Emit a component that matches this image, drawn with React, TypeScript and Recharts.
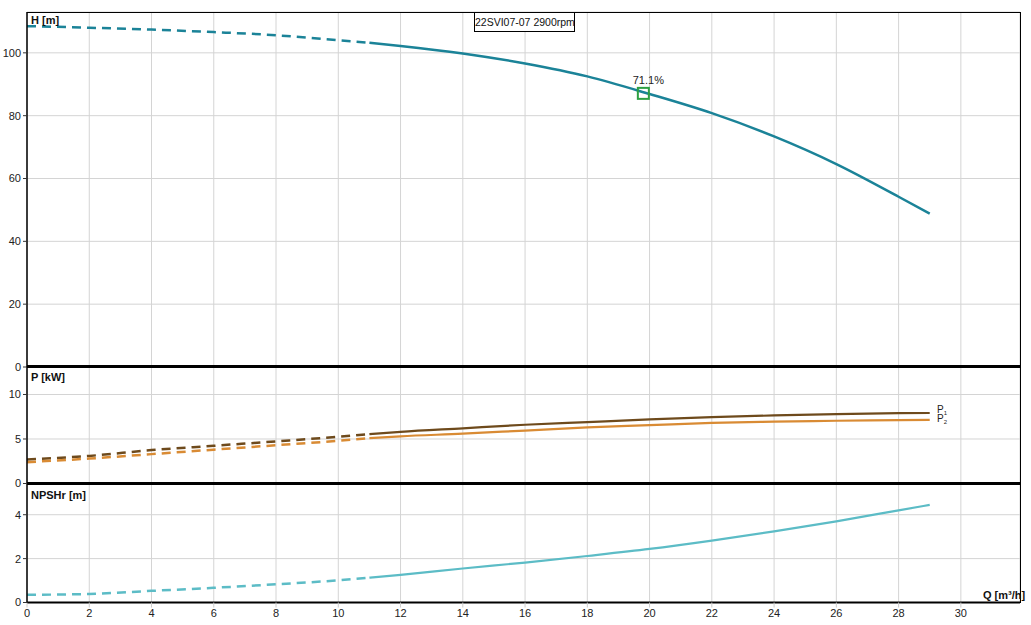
import React from "react";
import {
  LineChart,
  Line,
  XAxis,
  YAxis,
  CartesianGrid,
  ReferenceDot,
} from "recharts";

// ---- data ----
const flow = [0, 2, 4, 6, 8, 10, 11, 12, 14, 16, 18, 20, 22, 24, 26, 28, 29];
const head = [108.5, 108.0, 107.4, 106.6, 105.6, 104.0, 103.2, 102.2, 99.8, 96.6, 92.5, 86.9, 80.8, 73.4, 64.6, 54.2, 48.8];
const powerP1 = [2.7, 3.1, 3.75, 4.24, 4.73, 5.25, 5.55, 5.8, 6.2, 6.6, 6.9, 7.2, 7.45, 7.65, 7.8, 7.9, 7.92];
const powerP2 = [2.4, 2.8, 3.3, 3.8, 4.3, 4.8, 5.1, 5.3, 5.6, 5.95, 6.3, 6.55, 6.8, 6.95, 7.05, 7.12, 7.14];
const npshr = [0.35, 0.39, 0.53, 0.67, 0.83, 1.01, 1.13, 1.26, 1.55, 1.82, 2.12, 2.44, 2.82, 3.24, 3.7, 4.2, 4.45];
const solidFrom = 11;

const xTicks = [0, 2, 4, 6, 8, 10, 12, 14, 16, 18, 20, 22, 24, 26, 28, 30];
const hTicks = [0, 20, 40, 60, 80, 100];
const pTicks = [0, 5, 10];
const nTicks = [0, 2, 4];

const dutyPoint = { q: 19.8, h: 87.1, eff: "71.1%" };
const title = "22SVI07-07 2900rpm";

const rows = flow.map((q, i) => ({
  q,
  hD: q <= solidFrom ? head[i] : null,
  hS: q >= solidFrom ? head[i] : null,
  p1D: q <= solidFrom ? powerP1[i] : null,
  p1S: q >= solidFrom ? powerP1[i] : null,
  p2D: q <= solidFrom ? powerP2[i] : null,
  p2S: q >= solidFrom ? powerP2[i] : null,
  nD: q <= solidFrom ? npshr[i] : null,
  nS: q >= solidFrom ? npshr[i] : null,
}));

// ---- styles ----
const FONT = "'Liberation Sans', Arial, sans-serif";
const W = 1031;
const MR = 11;
const YW = 27;
const X_DOMAIN: [number, number] = [0, 31.9];
const GRID = "#d4d4d4";
const H_COL = "#1b8398";
const P1_COL = "#6e4a1c";
const P2_COL = "#d98b34";
const N_COL = "#5cbcc6";
const DASH = "9 6";
const tickStyle = { fontSize: 11, fill: "#222", fontFamily: FONT };

const abs = (l: number, t: number): React.CSSProperties => ({
  position: "absolute",
  left: l,
  top: t,
});

const boldLabel: React.CSSProperties = {
  fontFamily: FONT,
  fontSize: 11,
  fontWeight: "bold",
  color: "#111",
  lineHeight: "12px",
  whiteSpace: "nowrap",
};

const pLabel: React.CSSProperties = {
  fontFamily: FONT,
  fontSize: 10,
  color: "#222",
  lineHeight: "9px",
  whiteSpace: "nowrap",
};

function DutyShape(props: any) {
  const { cx, cy } = props;
  return (
    <g>
      <rect x={cx - 5.5} y={cy - 5.5} width={11} height={11} fill="none" stroke="#2ea043" strokeWidth={2} />
      <text x={cx + 5} y={cy - 9} textAnchor="middle" fontSize={11} fontFamily={FONT} fill="#222">
        {dutyPoint.eff}
      </text>
    </g>
  );
}

const yAxisCommon = {
  width: YW,
  type: "number" as const,
  tick: tickStyle,
  tickSize: 4,
  tickLine: { stroke: "#333" },
  axisLine: { stroke: "#000", strokeWidth: 1.5 },
  interval: 0 as const,
  allowDataOverflow: true,
};

export default function App() {
  return (
    <div style={{ position: "absolute", left: 0, top: 0, width: W, height: 625, background: "#fff" }}>
      {/* H chart: plot area y 12..367 */}
      <div style={abs(0, 0)}>
        <LineChart width={W} height={380} data={rows} margin={{ top: 12, right: MR, bottom: 13, left: 0 }}>
          <CartesianGrid stroke={GRID} />
          <XAxis dataKey="q" type="number" domain={X_DOMAIN} ticks={xTicks} hide allowDataOverflow />
          <YAxis {...yAxisCommon} domain={[0, 113]} ticks={hTicks} />
          <Line dataKey="hD" stroke={H_COL} strokeWidth={2.5} strokeDasharray={DASH} dot={false} type="monotone" isAnimationActive={false} />
          <Line dataKey="hS" stroke={H_COL} strokeWidth={2.5} dot={false} type="monotone" isAnimationActive={false} />
          <ReferenceDot x={dutyPoint.q} y={dutyPoint.h} r={5} shape={DutyShape} />
        </LineChart>
      </div>

      {/* P chart: plot area y 366..483.5 */}
      <div style={abs(0, 366)}>
        <LineChart width={W} height={130.5} data={rows} margin={{ top: 0, right: MR, bottom: 13, left: 0 }}>
          <CartesianGrid stroke={GRID} />
          <XAxis dataKey="q" type="number" domain={X_DOMAIN} ticks={xTicks} hide allowDataOverflow />
          <YAxis {...yAxisCommon} domain={[0, 13.2]} ticks={pTicks} />
          <Line dataKey="p1D" stroke={P1_COL} strokeWidth={2.5} strokeDasharray={DASH} dot={false} type="monotone" isAnimationActive={false} />
          <Line dataKey="p2D" stroke={P2_COL} strokeWidth={2.5} strokeDasharray={DASH} dot={false} type="monotone" isAnimationActive={false} />
          <Line dataKey="p1S" stroke={P1_COL} strokeWidth={2.2} dot={false} type="monotone" isAnimationActive={false} />
          <Line dataKey="p2S" stroke={P2_COL} strokeWidth={2.2} dot={false} type="monotone" isAnimationActive={false} />
        </LineChart>
      </div>

      {/* NPSHr chart: plot area y 483.5..602 */}
      <div style={abs(0, 483.5)}>
        <LineChart width={W} height={141.5} data={rows} margin={{ top: 0, right: MR, bottom: 0, left: 0 }}>
          <CartesianGrid stroke={GRID} />
          <XAxis
            dataKey="q"
            type="number"
            domain={X_DOMAIN}
            ticks={xTicks}
            interval={0}
            height={23}
            tick={tickStyle}
            tickSize={5}
            tickLine={{ stroke: "#ccc" }}
            axisLine={{ stroke: "#000", strokeWidth: 2 }}
            allowDataOverflow
          />
          <YAxis {...yAxisCommon} domain={[0, 5.4]} ticks={nTicks} />
          <Line dataKey="nD" stroke={N_COL} strokeWidth={2.5} strokeDasharray={DASH} dot={false} type="monotone" isAnimationActive={false} />
          <Line dataKey="nS" stroke={N_COL} strokeWidth={2.2} dot={false} type="monotone" isAnimationActive={false} />
        </LineChart>
      </div>

      {/* frame */}
      <div style={{ position: "absolute", left: 27, top: 11.5, width: 993, height: 0, borderTop: "1.5px solid #000", pointerEvents: "none" }} />
      <div style={{ position: "absolute", left: 1019.5, top: 11.5, width: 0, height: 591, borderLeft: "1.5px solid #000", pointerEvents: "none" }} />
      <div style={{ position: "absolute", left: 27, top: 365, width: 994, height: 0, borderTop: "3px solid #000", pointerEvents: "none" }} />
      <div style={{ position: "absolute", left: 27, top: 482, width: 994, height: 0, borderTop: "3px solid #000", pointerEvents: "none" }} />

      {/* title box */}
      <div
        style={{
          position: "absolute",
          left: 474,
          top: 12,
          width: 99,
          height: 18,
          border: "1px solid #000",
          background: "#fff",
          fontFamily: FONT,
          fontSize: 10.5,
          lineHeight: "18px",
          textAlign: "center",
          color: "#111",
          whiteSpace: "nowrap",
        }}
      >
        {title}
      </div>

      {/* panel labels */}
      <div style={{ ...abs(31, 14), ...boldLabel }}>H [m]</div>
      <div style={{ ...abs(31, 371), ...boldLabel }}>P [kW]</div>
      <div style={{ ...abs(31, 489), ...boldLabel }}>NPSHr [m]</div>
      <div style={{ ...abs(983, 589), ...boldLabel }}>Q [m³/h]</div>

      {/* P1 / P2 labels */}
      <div style={{ ...abs(937, 405), ...pLabel }}>
        P<span style={{ fontSize: 6, position: "relative", top: 2 }}>1</span>
      </div>
      <div style={{ ...abs(937, 414), ...pLabel }}>
        P<span style={{ fontSize: 6, position: "relative", top: 2 }}>2</span>
      </div>
    </div>
  );
}
